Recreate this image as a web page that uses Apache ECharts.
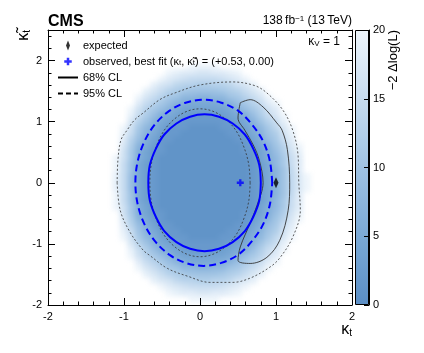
<!DOCTYPE html>
<html>
<head>
<meta charset="utf-8">
<script src="https://cdn.jsdelivr.net/npm/echarts@6.0.0/dist/echarts.min.js"></script>
<style>
  html, body { margin: 0; padding: 0; background: #fff; }
  .layer { position: absolute; left: 0; top: 0; width: 424px; height: 353px; }
  /* soften the 0.1-wide cells so the map reads as a smooth scan */
  #heat { filter: blur(2.5px); }
</style>
</head>
<body>
<div id="heat" class="layer"></div>
<div id="main" class="layer"></div>
<script>
const FONT = '"Liberation Sans", Arial, Helvetica, sans-serif';

// -2 Delta log(L), cells of 0.1 x 0.1
// one char per cell: 0-9, a=10 ... k=20, '.' = above 20 (left white)
const ktCells = [-1.3, -1.2, -1.1, -1.0, -0.9, -0.8, -0.7, -0.6, -0.5, -0.4, -0.3, -0.2, -0.1, 0.0,
  0.1, 0.2, 0.3, 0.4, 0.5, 0.6, 0.7, 0.8, 0.9, 1.0, 1.1, 1.2, 1.3, 1.4, 1.5];
const ktTildeCells = [1.9, 1.8, 1.7, 1.6, 1.5, 1.4, 1.3, 1.2, 1.1, 1.0, 0.9, 0.8, 0.7, 0.6, 0.5, 0.4, 0.3, 0.2, 0.1, 0.0,
  -0.1, -0.2, -0.3, -0.4, -0.5, -0.6, -0.7, -0.8, -0.9, -1.0, -1.1, -1.2, -1.3, -1.4, -1.5, -1.6, -1.7, -1.8, -1.9];
const nllRows = [
  '............kkkk.............',
  '.........kjiihhiijk..........',
  '........kihgffffghik.........',
  '.......jhgeddccddeghj........',
  '......jhfdcbaaaabcdfhj.......',
  '.....khfdba887788abdfhk......',
  '.....ifdb9765555679bdfik.....',
  '....kgdb975444444579bdgi.....',
  '....jfc96543222234569cfhk....',
  '....hda75432222223457adfj....',
  '...kgb8642221111222468behk...',
  '...jfa7532211111122357acgj...',
  '...id964221111111122469bfi...',
  '...hc753211111111112357adhk..',
  '...gb6422111111111122469cgj..',
  '..kgb6421111111111112468bfi..',
  '..kfa5321111111111112358bfi..',
  '..kfa5321111111111112357aei..',
  '..jf95321111111111112357aehk.',
  '..jf95321111111111112357aehk.',
  '..jf95321111111111112357aehk.',
  '..kfa5321111111111112357aei..',
  '..kfa5321111111111112358bfi..',
  '..kgb6421111111111112468bfi..',
  '...gb6422111111111122469cgj..',
  '...hc753211111111112357adhk..',
  '...id964221111111122469bfi...',
  '...jfa7532211111122357acgj...',
  '...kgb8642221111222468behk...',
  '....hda75432222223457adfj....',
  '....jfc96543222234569cfhk....',
  '....kgdb975444444579bdgi.....',
  '.....ifdb9765555679bdfik.....',
  '.....khfdba887788abdfhk......',
  '......jhfdcbaaaabcdfhj.......',
  '.......jhgeddccddeghj........',
  '........kihgffffghik.........',
  '.........kjiihhiijk..........',
  '............kkkk.............'
];
const colorRamp = ['#5b8ec5', '#74a4d2', '#90b8de', '#afcde8', '#cfe1f2', '#eef5fb'];

// contours (kt, kt~)
const obs68 = [[0.80, 0.00], [0.78, 0.29], [0.70, 0.56], [0.59, 0.79], [0.43, 0.97], [0.25, 1.08], [0.06, 1.12],
  [-0.13, 1.08], [-0.31, 0.97], [-0.47, 0.79], [-0.58, 0.56], [-0.66, 0.29], [-0.68, 0.00], [-0.66, -0.29],
  [-0.58, -0.56], [-0.47, -0.79], [-0.31, -0.97], [-0.13, -1.08], [0.06, -1.12], [0.25, -1.08], [0.43, -0.97],
  [0.59, -0.79], [0.70, -0.56], [0.78, -0.29], [0.80, 0.00]];
const obs95 = [[0.95, 0.00], [0.92, 0.35], [0.83, 0.68], [0.68, 0.96], [0.50, 1.18], [0.28, 1.31], [0.05, 1.36],
  [-0.19, 1.31], [-0.40, 1.18], [-0.59, 0.96], [-0.73, 0.68], [-0.82, 0.35], [-0.85, 0.00], [-0.82, -0.35],
  [-0.73, -0.68], [-0.59, -0.96], [-0.40, -1.18], [-0.19, -1.31], [0.05, -1.36], [0.28, -1.31], [0.50, -1.18],
  [0.68, -0.96], [0.83, -0.68], [0.92, -0.35], [0.95, 0.00]];
const exp68 = [[0.53, 1.31], [0.66, 1.36], [0.83, 1.24], [1.01, 0.98], [1.08, 0.86], [1.15, 0.54], [1.18, 0.00],
  [1.16, -0.45], [1.05, -0.94], [0.88, -1.22], [0.66, -1.32], [0.50, -1.27], [0.53, -1.05], [0.66, -0.66],
  [0.75, -0.37], [0.83, 0.00], [0.78, 0.37], [0.70, 0.62], [0.59, 0.86], [0.50, 1.06], [0.53, 1.31]];
const exp95Outer = [[-1.09, 0.00], [-1.08, 0.37], [-1.04, 0.70], [-0.96, 0.86], [-0.86, 1.03], [-0.75, 1.14],
  [-0.53, 1.36], [-0.33, 1.47], [0.00, 1.60], [0.43, 1.65], [0.72, 1.59], [0.88, 1.47], [1.09, 1.19], [1.22, 0.86],
  [1.29, 0.45], [1.30, 0.00], [1.32, -0.45], [1.22, -0.89], [1.05, -1.23], [0.92, -1.38], [0.66, -1.56],
  [0.43, -1.63], [0.13, -1.63], [-0.16, -1.53], [-0.43, -1.40], [-0.66, -1.19], [-0.75, -1.10], [-0.92, -0.81],
  [-1.05, -0.45], [-1.09, 0.00]];
const exp95Inner = [[0.66, 0.00], [0.64, 0.31], [0.57, 0.61], [0.47, 0.86], [0.33, 1.05], [0.17, 1.17], [0.00, 1.21],
  [-0.17, 1.17], [-0.33, 1.05], [-0.47, 0.86], [-0.57, 0.61], [-0.64, 0.31], [-0.66, 0.00], [-0.64, -0.31],
  [-0.57, -0.61], [-0.47, -0.86], [-0.33, -1.05], [-0.17, -1.17], [0.00, -1.21], [0.17, -1.17], [0.33, -1.05],
  [0.47, -0.86], [0.57, -0.61], [0.64, -0.31], [0.66, 0.00]];
const expectedPoint = [1.00, 0.00];
const observedBestFit = [0.53, 0.00];

const DIAMOND = 'path://M0,-5L2,0L0,5L-2,0Z';
const CROSS = 'path://M-1,-3L1,-3L1,-1L3,-1L3,1L1,1L1,3L-1,3L-1,1L-3,1L-3,-1L-1,-1Z';
// same cross, padded so the legend draws it a bit smaller
const CROSS_LEGEND = 'path://M-4,-4M4,4M-1,-3L1,-3L1,-1L3,-1L3,1L1,1L1,3L-1,3L-1,1L-3,1L-3,-1L-1,-1Z';
const plotGrid = { left: 48, top: 30, width: 304, height: 275 };

// ---- colour map layer ----
const heatData = [];
nllRows.forEach((row, j) => {
  for (let i = 0; i < ktCells.length; i++) {
    const ch = row[i];
    if (ch === '.' || ch === undefined) continue;
    heatData.push([ktCells[i], ktTildeCells[j], parseInt(ch, 36)]);
  }
});

const heat = echarts.init(document.getElementById('heat'));
heat.setOption({
  animation: false,
  grid: plotGrid,
  xAxis: { type: 'value', min: -2, max: 2, show: false },
  yAxis: { type: 'value', min: -2, max: 2.5, show: false },
  visualMap: { show: false, type: 'continuous', min: 0, max: 20, dimension: 2, inRange: { color: colorRamp } },
  series: [{
    type: 'custom',
    data: heatData,
    renderItem(params, api) {
      const c = api.coord([api.value(0), api.value(1)]);
      const s = api.size([0.1, 0.1]);
      return {
        type: 'rect',
        shape: { x: c[0] - s[0] / 2 - 0.5, y: c[1] - s[1] / 2 - 0.5, width: s[0] + 1, height: s[1] + 1 },
        style: { fill: api.visual('color') }
      };
    }
  }]
});

// ---- axes, contours, legend ----
function frameAxis(dim, position, interval, tickLen, withLine, withLabel) {
  return {
    gridIndex: 0,
    type: 'value',
    position: position,
    min: -2,
    max: dim === 'x' ? 2 : 2.5,
    interval: interval,
    axisLine: { show: withLine, onZero: false, lineStyle: { color: '#000', width: 1 } },
    axisTick: { show: true, inside: true, length: tickLen, lineStyle: { color: '#000', width: 1 } },
    splitLine: { show: false },
    axisLabel: {
      show: withLabel,
      margin: 6,
      fontFamily: FONT,
      fontSize: 11,
      color: '#000',
      formatter: v => (Number.isInteger(v) ? String(v) : '')
    }
  };
}

function contour(data, color, width, type) {
  return {
    type: 'line',
    data: data,
    symbol: 'none',
    smooth: 0.35,
    silent: true,
    lineStyle: { color: color, width: width, type: type }
  };
}

const sub = { fontSize: 8, verticalAlign: 'bottom', lineHeight: 9, fontFamily: FONT };
const signed = v => (v > 0 ? '+' : '') + v.toFixed(2);

const main = echarts.init(document.getElementById('main'));
main.setOption({
  animation: false,
  grid: [plotGrid, { left: 355, top: 30, width: 14, height: 275 }],
  xAxis: [
    frameAxis('x', 'bottom', 1, 7, true, true),
    frameAxis('x', 'bottom', 0.2, 3.5, false, false),
    frameAxis('x', 'top', 1, 7, true, false),
    frameAxis('x', 'top', 0.2, 3.5, false, false),
    { gridIndex: 1, type: 'category', data: [''], show: false }
  ],
  yAxis: [
    frameAxis('y', 'left', 1, 7, true, true),
    frameAxis('y', 'left', 0.2, 3.5, false, false),
    frameAxis('y', 'right', 1, 7, true, false),
    frameAxis('y', 'right', 0.2, 3.5, false, false),
    {
      gridIndex: 1, type: 'value', position: 'right', min: 0, max: 20, interval: 5, z: 10,
      axisLine: { show: true, lineStyle: { color: '#000', width: 1 } },
      axisTick: { show: true, inside: true, length: 5, lineStyle: { color: '#000' } },
      splitLine: { show: false },
      axisLabel: { margin: 4, fontFamily: FONT, fontSize: 11, color: '#000' }
    }
  ],
  legend: {
    orient: 'vertical',
    left: 57,
    top: 40,
    itemWidth: 20,
    itemHeight: 10,
    itemGap: 5,
    itemTextGap: 6,
    padding: 0,
    selectedMode: false,
    textStyle: { fontFamily: FONT, fontSize: 11, color: '#000', rich: { s: sub } },
    formatter: name => name === 'observed'
      ? 'observed, best fit (\u03ba{s|t}, \u03ba\u0303{s|t}) = (' + signed(observedBestFit[0]) + ', ' + signed(observedBestFit[1]) + ')'
      : name,
    data: [
      { name: 'expected', icon: DIAMOND },
      { name: 'observed', icon: CROSS_LEGEND },
      { name: '68% CL', itemStyle: { opacity: 0 } },
      { name: '95% CL', itemStyle: { opacity: 0 } }
    ]
  },
  series: [
    contour(exp95Outer, '#333', 0.8, [2, 2]),
    contour(exp95Inner, '#333', 0.8, [2, 2]),
    contour(exp68, '#333', 0.9, 'solid'),
    contour(obs95, '#0000ff', 2, [7, 4]),
    contour(obs68, '#0000ff', 2, 'solid'),
    {
      name: 'expected', type: 'scatter', data: [expectedPoint],
      symbol: DIAMOND, symbolSize: [5, 11], itemStyle: { color: '#000' }
    },
    {
      name: 'observed', type: 'scatter', data: [observedBestFit],
      symbol: CROSS, symbolSize: 7, itemStyle: { color: '#0000ff' }
    },
    { name: '68% CL', type: 'line', data: [], symbol: 'none', itemStyle: { color: '#000' },
      lineStyle: { color: '#000', width: 1.5, type: 'solid' } },
    { name: '95% CL', type: 'line', data: [], symbol: 'none', itemStyle: { color: '#000' },
      lineStyle: { color: '#000', width: 1.5, type: [5, 3] } },
    {
      type: 'bar', xAxisIndex: 4, yAxisIndex: 4, data: [20], barWidth: '100%', silent: true,
      itemStyle: {
        borderColor: '#000',
        borderWidth: 1,
        color: new echarts.graphic.LinearGradient(0, 1, 0, 0,
          colorRamp.map((c, i) => ({ offset: i / (colorRamp.length - 1), color: c })))
      }
    }
  ],
  graphic: [
    { type: 'text', left: 48, top: 14, style: { text: 'CMS', font: 'bold 16px ' + FONT, fill: '#000' } },
    {
      type: 'text', right: 72, top: 15,
      style: {
        text: '138\u2009fb{sup|\u22121} (13\u2009TeV)', font: '12px ' + FONT, fill: '#000',
        rich: { sup: { fontSize: 8, verticalAlign: 'top', lineHeight: 9, fontFamily: FONT } }
      }
    },
    {
      type: 'text', right: 84, top: 36,
      style: { text: '\u03ba{s|V} = 1', font: '12px ' + FONT, fill: '#000', rich: { s: sub } }
    },
    {
      type: 'text', right: 72, top: 322,
      style: { text: '\u03ba{s|t}', font: '16px ' + FONT, fill: '#000', rich: { s: { fontSize: 10, verticalAlign: 'bottom', lineHeight: 10, fontFamily: FONT } } }
    },
    {
      type: 'text', x: 24, y: 30, rotation: Math.PI / 2,
      style: {
        text: '\u03ba\u0303{s|t}', font: '16px ' + FONT, fill: '#000', align: 'right', verticalAlign: 'middle',
        rich: { s: { fontSize: 10, verticalAlign: 'bottom', lineHeight: 10, fontFamily: FONT } }
      }
    },
    {
      type: 'text', x: 393, y: 30, rotation: Math.PI / 2,
      style: { text: '\u22122 \u0394log(L)', font: '13px ' + FONT, fill: '#000', align: 'right', verticalAlign: 'middle' }
    }
  ]
});
</script>
</body>
</html>
